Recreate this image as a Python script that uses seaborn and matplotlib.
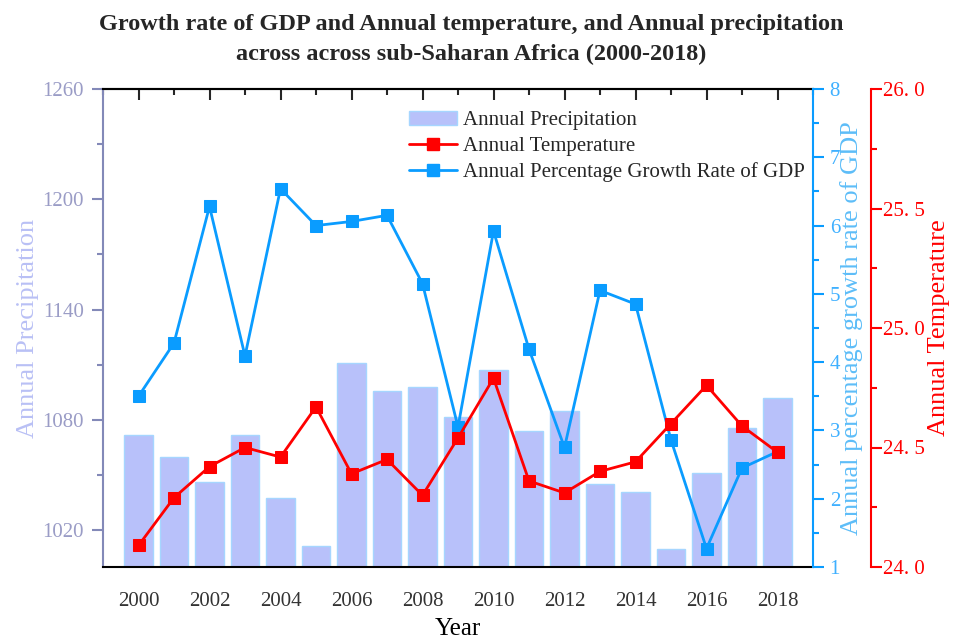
import numpy as np
import pandas as pd
import matplotlib
matplotlib.use("Agg")
import matplotlib.pyplot as plt
from matplotlib.ticker import MultipleLocator, FixedLocator
from matplotlib.lines import Line2D
from matplotlib.patches import Patch
import seaborn as sns

# ---- data -------------------------------------------------------------
years = list(range(2000, 2019))
precipitation = [1072, 1060, 1046, 1072, 1037.5, 1011.5, 1111, 1096, 1098, 1081.5,
                 1107, 1074, 1085, 1045, 1041, 1010, 1051, 1075.5, 1092]
temperature = [24.09, 24.29, 24.42, 24.50, 24.46, 24.67, 24.39, 24.45, 24.30, 24.54,
               24.79, 24.36, 24.31, 24.40, 24.44, 24.60, 24.76, 24.59, 24.48]
gdp_growth = [3.50, 4.28, 6.28, 4.09, 6.54, 6.00, 6.06, 6.15, 5.15, 3.05,
              5.92, 4.19, 2.75, 5.05, 4.85, 2.86, 1.27, 2.45, 2.69]
temp_ticks = [24.0, 24.5, 25.0, 25.5, 26.0]
temp_tick_labels = ["24. 0", "24. 5", "25. 0", "25. 5", "26. 0"]

df = pd.DataFrame({"Year": years, "Precipitation": precipitation,
                   "Temperature": temperature, "GDP": gdp_growth})

# ---- style ------------------------------------------------------------
sns.set_style("white")
plt.rcParams["font.family"] = ["Liberation Serif", "DejaVu Serif"]

BAR_FILL = "#b8c1fa"
BAR_EDGE = "#a6d6ff"
AX_PURPLE = "#8389b8"
TXT_PURPLE = "#9a9cc6"
LBL_PURPLE = "#b9c0f5"
BLUE = "#0a9cff"
BLUE_TXT = "#3fb0ff"
BLUE_LBL = "#5dbdf8"
RED = "#ff0000"

DPI = 100
PX = 72 / DPI  # points per pixel

fig = plt.figure(figsize=(9.56, 6.41), dpi=DPI)
ax = fig.add_axes([103 / 956, 1 - 567 / 641, (813 - 103) / 956, (567 - 89) / 641])

# ---- precipitation bars ----------------------------------------------
sns.barplot(data=df, x="Year", y="Precipitation", native_scale=True, ax=ax,
            color=BAR_FILL, saturation=1, width=0.8, edgecolor=BAR_EDGE,
            linewidth=1.0, zorder=2)
ax.set_xlim(1999, 2019)
ax.set_ylim(1000, 1260)
ax.yaxis.set_major_locator(FixedLocator([1020, 1080, 1140, 1200, 1260]))
ax.yaxis.set_minor_locator(FixedLocator([1050, 1110, 1170, 1230]))
ax.xaxis.set_major_locator(MultipleLocator(2))
ax.xaxis.set_minor_locator(FixedLocator([y for y in range(1999, 2020, 2)]))
ax.set_xticklabels([str(int(t)) for t in ax.get_xticks()])
ax.tick_params(axis="x", which="major", direction="out", length=8, width=1.5,
               colors="black", labelsize=15, labelcolor="#333333", pad=10)
ax.tick_params(axis="x", which="minor", direction="out", length=4, width=1.5,
               colors="black")
ax.tick_params(axis="y", which="major", direction="out", length=8, width=1.5,
               colors=AX_PURPLE, labelsize=15, labelcolor=TXT_PURPLE, pad=6)
ax.tick_params(axis="y", which="minor", direction="out", length=4, width=1.5,
               colors=AX_PURPLE, left=True)
ax.set_xlabel("Year", fontsize=18, color="black", labelpad=5)
ax.set_ylabel("Annual Precipitation", fontsize=19, color=LBL_PURPLE, labelpad=2)
for side in ["top", "bottom"]:
    ax.spines[side].set_color("black")
    ax.spines[side].set_linewidth(1.5)
ax.spines["left"].set_color(AX_PURPLE)
ax.spines["left"].set_linewidth(1.5)
ax.spines["right"].set_visible(False)

# inward ticks along the top edge
top = ax.secondary_xaxis("top")
top.xaxis.set_major_locator(MultipleLocator(2))
top.xaxis.set_minor_locator(FixedLocator([y for y in range(1999, 2020, 2)]))
top.tick_params(which="major", direction="in", length=8, width=1.5, labeltop=False)
top.tick_params(which="minor", direction="in", length=4, width=1.5)
top.spines["top"].set_linewidth(1.5)

# ---- GDP growth axis --------------------------------------------------
ax_g = ax.twinx()
sns.lineplot(data=df, x="Year", y="GDP", ax=ax_g, color=BLUE, linewidth=2,
             marker="s", markersize=9, markeredgecolor=BLUE, markerfacecolor=BLUE)
ax_g.set_ylim(1, 8)
ax_g.yaxis.set_major_locator(MultipleLocator(1))
ax_g.yaxis.set_minor_locator(MultipleLocator(0.5))
ax_g.tick_params(axis="y", which="major", direction="out", length=8, width=1.5,
                 colors=BLUE, labelsize=15, labelcolor=BLUE_TXT, pad=4)
ax_g.tick_params(axis="y", which="minor", direction="out", length=4, width=1.5,
                 colors=BLUE, right=True)
ax_g.set_ylabel("Annual percentage growth rate of GDP", fontsize=19,
                color=BLUE_LBL, labelpad=0)
for side in ["top", "bottom", "left"]:
    ax_g.spines[side].set_visible(False)
ax_g.spines["right"].set_color(BLUE)
ax_g.spines["right"].set_linewidth(1.5)

# ---- temperature axis -------------------------------------------------
ax_t = ax.twinx()
ax_t.spines["right"].set_position(("outward", 58 * PX))
sns.lineplot(data=df, x="Year", y="Temperature", ax=ax_t, color=RED, linewidth=2,
             marker="s", markersize=9, markeredgecolor=RED, markerfacecolor=RED)
ax_t.set_ylim(24.0, 26.0)
ax_t.yaxis.set_major_locator(FixedLocator(temp_ticks))
ax_t.set_yticklabels(temp_tick_labels)
ax_t.yaxis.set_minor_locator(MultipleLocator(0.25))
ax_t.tick_params(axis="y", which="major", direction="out", length=8, width=1.5,
                 colors=RED, labelsize=15, labelcolor=RED, pad=1)
ax_t.tick_params(axis="y", which="minor", direction="out", length=4, width=1.5,
                 colors=RED, right=True)
ax_t.set_ylabel("Annual Temperature", fontsize=19, color=RED, labelpad=2)
for side in ["top", "bottom", "left"]:
    ax_t.spines[side].set_visible(False)
ax_t.spines["right"].set_color(RED)
ax_t.spines["right"].set_linewidth(1.5)
ax_g.set_xlim(1999, 2019)
ax_t.set_xlim(1999, 2019)

# ---- legend -----------------------------------------------------------
handles = [
    Patch(facecolor=BAR_FILL, edgecolor=BAR_EDGE, linewidth=1.0),
    Line2D([], [], color=RED, lw=2, marker="s", markersize=8),
    Line2D([], [], color=BLUE, lw=2, marker="s", markersize=8),
]
labels = ["Annual Precipitation", "Annual Temperature",
          "Annual Percentage Growth Rate of GDP"]
ax_t.legend(handles, labels, loc="upper left", bbox_to_anchor=(0.41, 0.985),
            frameon=False, fontsize=15, handlelength=2.3, handletextpad=0.3,
            labelspacing=0.3, borderaxespad=0.3)

fig.suptitle("Growth rate of GDP and Annual temperature, and Annual precipitation\n"
             "across across sub-Saharan Africa (2000-2018)",
             fontsize=17.5, fontweight="bold", x=0.493, y=0.978, linespacing=1.55)

fig.savefig("out.png", dpi=DPI)
